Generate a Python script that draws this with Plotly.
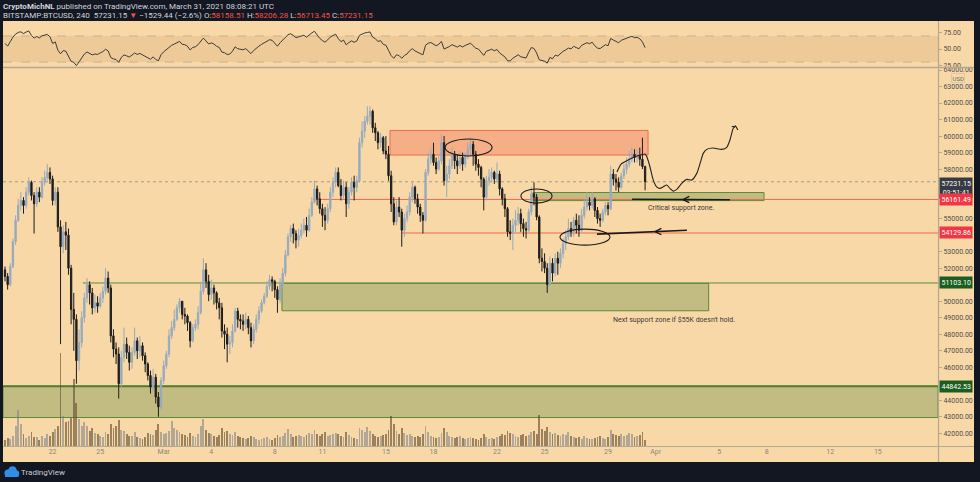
import plotly.graph_objects as go
import pandas as pd

# ---------------- data: BITSTAMP BTCUSD, 240 (4h) candles, prices in thousands USD ----------------
first_open = 51.9
close = [
    51.5, 51.0, 52.1, 53.6, 54.9, 55.8,
    56.1, 55.8, 56.6, 57.2, 56.4, 55.9,
    56.6, 56.3, 57.2, 57.5, 57.8, 57.4,
    56.1, 56.6, 54.5, 53.3, 54.2, 54.0,
    52.0, 49.5, 48.9, 46.4, 47.5, 49.0,
    50.2, 51.0, 50.5, 49.6, 49.9, 49.7,
    50.2, 50.6, 51.4, 50.8, 47.9, 47.1,
    46.8, 45.0, 46.6, 47.4, 46.9, 46.3,
    46.9, 47.6, 47.0, 47.3, 46.7, 46.2,
    45.5, 44.8, 45.4, 44.2, 43.6, 45.2,
    46.1, 46.8, 47.9, 48.4, 48.9, 49.6,
    50.0, 49.2, 49.1, 48.7, 47.6, 48.4,
    48.6, 49.3, 50.6, 51.9, 51.2, 50.4,
    50.8, 50.5, 49.9, 49.6, 48.2, 48.0,
    47.4, 47.5, 48.2, 49.4, 48.9, 48.8,
    48.6, 48.9, 48.4, 47.6, 48.3, 48.9,
    49.4, 49.9, 50.3, 50.9, 51.3, 51.2,
    50.7, 50.1, 51.0, 51.7, 52.8, 53.9,
    54.4, 54.1, 53.7, 54.0, 54.3, 54.6,
    54.3, 55.2, 56.0, 56.8, 56.2, 55.6,
    55.2, 54.9, 55.6, 56.6, 57.2, 57.8,
    57.0, 56.4, 56.9, 55.9, 56.6, 57.2,
    56.9, 57.3, 59.6, 60.3, 60.9, 61.2,
    61.5, 60.5, 60.2, 59.6, 59.9, 59.1,
    58.9, 57.6, 55.9, 54.8, 55.7, 55.4,
    54.3, 55.0, 55.4, 56.3, 56.9, 56.2,
    55.7, 55.2, 54.9, 57.8, 58.6, 58.9,
    58.4, 58.0, 58.5, 59.6, 57.3, 57.7,
    58.2, 58.9, 58.5, 58.2, 58.7, 58.3,
    58.8, 59.2, 59.5, 58.9, 58.3, 58.1,
    57.4, 56.3, 57.3, 57.5, 57.8, 57.4,
    57.7, 56.8, 56.2, 55.6, 54.2, 54.1,
    54.6, 54.9, 55.3, 54.7, 54.4, 54.3,
    55.4, 56.5, 56.3, 55.1, 52.6, 52.4,
    52.0, 51.0, 52.3, 51.7, 52.6, 52.3,
    52.9, 53.5, 53.9, 54.4, 54.2, 54.9,
    54.6, 54.3, 55.2, 55.7, 56.0, 55.8,
    56.2, 55.5, 55.0, 54.9, 55.4, 55.8,
    55.6, 57.7, 57.4, 57.2, 56.9, 57.6,
    58.0, 58.3, 58.6, 58.9, 58.7, 58.8,
    58.6, 58.15851, 57.23115,
]
high = [
    52.1, 51.7, 52.3, 53.8, 55.2, 56.2,
    56.6, 56.3, 56.9, 57.5, 57.3, 56.6,
    56.9, 56.9, 57.5, 57.9, 58.3, 58.1,
    57.6, 56.9, 56.9, 54.9, 54.6, 54.8,
    54.4, 52.2, 50.5, 49.2, 48.3, 49.4,
    50.5, 51.4, 51.2, 50.8, 50.4, 50.3,
    50.5, 50.9, 52.0, 51.8, 51.0, 48.3,
    47.5, 47.2, 47.0, 48.4, 47.8, 47.3,
    47.2, 48.4, 47.8, 47.9, 47.5, 46.9,
    46.3, 45.8, 45.9, 45.6, 44.5, 45.4,
    46.4, 47.0, 48.3, 48.8, 49.5, 49.8,
    50.2, 50.0, 49.6, 49.2, 48.8, 48.6,
    48.9, 49.7, 51.1, 52.6, 52.3, 51.6,
    51.3, 51.0, 50.6, 50.2, 49.9, 48.6,
    48.4, 47.9, 48.6, 49.6, 49.6, 49.2,
    49.2, 49.3, 49.1, 48.7, 48.6, 49.2,
    49.7, 50.1, 50.5, 51.2, 51.6, 51.5,
    51.3, 50.9, 51.4, 52.0, 53.1, 54.1,
    54.6, 54.7, 54.3, 54.4, 54.7, 55.0,
    55.1, 55.6, 56.3, 57.3, 57.0, 56.6,
    55.9, 55.7, 55.9, 56.9, 57.5, 58.1,
    58.1, 57.4, 57.3, 57.2, 56.9, 57.5,
    57.6, 57.6, 59.9, 60.9, 61.2, 61.8,
    61.8, 61.6, 60.8, 60.3, 60.2, 60.0,
    60.0, 59.4, 57.9, 56.3, 56.1, 56.3,
    55.6, 55.3, 55.8, 56.6, 57.2, 57.0,
    56.5, 55.9, 55.4, 58.0, 59.0, 59.3,
    59.6, 58.7, 58.8, 60.1, 60.0, 58.2,
    58.6, 59.3, 59.1, 58.9, 59.1, 59.0,
    59.0, 59.6, 59.9, 59.7, 59.1, 58.6,
    58.2, 57.5, 57.6, 58.0, 58.1, 57.9,
    58.4, 57.9, 56.9, 56.5, 55.7, 54.9,
    55.0, 55.5, 55.7, 55.6, 55.0, 54.8,
    55.6, 56.9, 57.2, 56.5, 55.2, 53.2,
    52.9, 52.3, 52.7, 52.6, 52.9, 53.0,
    53.2, 53.8, 54.3, 55.0, 54.8, 55.1,
    55.3, 55.2, 55.6, 56.2, 56.6, 56.3,
    56.6, 56.3, 55.7, 55.3, 55.6, 56.0,
    56.0, 58.2, 58.0, 57.7, 57.5, 57.8,
    58.3, 58.7, 59.1, 59.3, 59.2, 59.2,
    59.3, 59.9, 58.20628,
]
low = [
    51.2, 50.7, 50.9, 52.0, 53.4, 54.8,
    55.5, 55.3, 55.6, 56.4, 56.1, 54.1,
    55.7, 56.0, 56.2, 57.0, 57.3, 57.1,
    55.8, 55.8, 54.2, 47.4, 52.9, 53.1,
    51.6, 48.6, 47.0, 45.0, 45.8, 47.2,
    48.7, 49.9, 49.8, 49.2, 49.3, 49.3,
    49.6, 49.9, 50.4, 50.5, 47.5, 46.6,
    46.2, 44.1, 44.8, 46.3, 46.5, 45.8,
    45.9, 46.7, 46.5, 46.6, 46.4, 45.7,
    45.2, 44.4, 44.5, 43.8, 43.0, 43.4,
    45.0, 45.9, 46.6, 47.7, 48.2, 48.8,
    49.3, 48.9, 48.6, 48.2, 47.2, 47.5,
    48.2, 48.3, 49.2, 50.4, 50.8, 50.0,
    50.1, 49.8, 49.5, 48.9, 47.8, 47.1,
    46.3, 46.8, 47.2, 48.1, 48.4, 48.3,
    48.2, 48.3, 48.0, 47.2, 47.4, 48.1,
    48.6, 49.3, 49.8, 50.2, 50.7, 50.6,
    50.2, 49.3, 49.9, 50.8, 51.5, 52.7,
    53.6, 53.5, 53.2, 53.3, 53.8, 54.1,
    53.9, 54.2, 55.1, 55.9, 55.8, 55.3,
    54.5, 54.3, 54.7, 55.4, 56.3, 56.9,
    56.9, 56.1, 56.2, 55.1, 55.6, 56.4,
    56.1, 56.6, 57.2, 59.3, 59.9, 60.7,
    60.7, 60.2, 59.7, 59.2, 59.3, 58.9,
    58.6, 57.3, 55.4, 54.6, 54.6, 55.1,
    53.3, 53.9, 54.8, 55.2, 56.0, 55.9,
    55.3, 54.8, 54.1, 54.8, 57.6, 58.3,
    58.2, 57.7, 57.9, 58.3, 57.0, 56.3,
    57.4, 58.0, 58.0, 57.7, 58.0, 57.9,
    58.1, 58.6, 58.9, 58.2, 57.9, 57.6,
    56.9, 55.5, 56.1, 57.0, 57.2, 57.1,
    57.2, 56.4, 55.8, 55.1, 53.9, 53.7,
    53.1, 54.2, 54.6, 54.2, 53.9, 53.8,
    54.2, 55.2, 55.8, 54.9, 52.3, 51.8,
    51.7, 50.5, 50.9, 51.2, 51.5, 51.6,
    52.0, 52.6, 53.1, 53.7, 53.9, 53.9,
    54.1, 53.9, 54.2, 55.0, 55.5, 55.5,
    55.6, 55.1, 54.7, 54.5, 54.8, 55.2,
    55.2, 55.5, 57.0, 56.7, 56.6, 56.8,
    57.4, 57.7, 58.1, 58.4, 58.4, 58.4,
    58.2, 58.0, 56.71345,
]
volume = [
    6, 8, 7, 10, 20, 36,
    22, 12, 8, 10, 14, 9,
    9, 6, 10, 8, 12, 10,
    14, 17, 20, 93, 30, 24,
    25, 28, 67, 43, 27, 20,
    24, 20, 15, 18, 13, 12,
    10, 9, 14, 12, 22, 18,
    20, 26, 16, 15, 12, 10,
    10, 14, 9, 8, 7, 9,
    13, 12, 11, 16, 22, 14,
    12, 13, 15, 25, 18, 16,
    14, 12, 11, 9, 13, 10,
    9, 12, 20, 27, 16, 13,
    12, 10, 9, 11, 18, 14,
    15, 12, 11, 14, 10, 9,
    8, 7, 8, 10, 9, 7,
    6, 7, 8, 9, 7, 6,
    8, 11, 9, 10, 13, 17,
    12, 9, 10, 11, 10, 9,
    11, 13, 12, 16, 12, 10,
    12, 14, 10, 11, 12, 13,
    12, 10, 9, 14, 11, 9,
    8, 7, 18, 16, 14, 19,
    15, 12, 10, 9, 10, 11,
    12, 16, 30, 22, 15, 12,
    18, 13, 11, 12, 10, 9,
    10, 9, 12, 20, 14, 10,
    9, 8, 9, 13, 18, 14,
    10, 9, 8, 9, 10, 8,
    7, 8, 9, 8, 7, 6,
    8, 12, 9, 7, 8, 7,
    9, 10, 12, 11, 15, 13,
    12, 10, 9, 11, 12, 10,
    11, 14, 15, 12, 31, 17,
    15, 19, 14, 12, 13, 11,
    10, 12, 11, 14, 10, 9,
    8, 9, 7, 10, 8, 7,
    7, 8, 9, 10, 8, 7,
    9, 16, 12, 11, 10, 12,
    10, 11, 13, 12, 9, 10,
    11, 14, 6,
]
rsi_seed_gain = 0.30
rsi_seed_loss = 0.18

x_tick_dates = ["2021-02-22", "2021-02-25", "2021-03-01", "2021-03-04", "2021-03-08", "2021-03-11",
                "2021-03-15", "2021-03-18", "2021-03-22", "2021-03-25", "2021-03-29", "2021-04-01",
                "2021-04-05", "2021-04-08", "2021-04-12", "2021-04-15"]
x_tick_labels = ["22", "25", "Mar", "4", "8", "11", "15", "18", "22", "25", "29", "Apr", "5", "8", "12", "15"]

# price-scale ticks (those hidden behind the coloured level labels are left out)
price_ticks = [42000, 43000, 44000, 46000, 47000, 48000, 49000, 50000, 52000, 53000, 55000,
               58000, 59000, 60000, 61000, 62000, 63000, 64000]
rsi_ticks = [25, 50, 75]

level_prices = [57231.15, 56161.49, 54129.86, 51103.10, 44842.53]
level_texts = ["57231.15<br>03:51:41", "56161.49", "54129.86", "51103.10", "44842.53"]
level_colors = ["#363a45", "#f23645", "#f23645", "#1b5e20", "#1b5e20"]

# zones (day offsets from 19 Feb 00:00, prices)
red_zone = (24.26, 40.52, 58850, 60340)
crit_zone = (33.27, 47.83, 56090, 56580)
next_zone = (17.45, 44.34, 49420, 51080)
base_zone = (42955, 44842.53)

# hand drawn projection path (day offset, price)
proj_d = [38.56, 38.82, 39.26, 39.82, 40.33, 40.45, 40.64, 40.85, 41.06, 41.27, 41.48, 41.70, 41.90,
          42.11, 42.33, 42.64, 42.96, 43.27, 43.59, 43.80, 44.00, 44.22, 44.63, 45.16, 45.48, 45.68,
          45.89, 46.04]
proj_p = [57819, 58304, 58546, 58788, 58910, 58728, 58140, 57334, 56928, 56831, 56928, 57031, 56831,
          56667, 56770, 57134, 57376, 57334, 57740, 58346, 58952, 59194, 59273, 59194, 59316, 59758,
          60467, 60606]

# ---------------- derived ----------------
n = len(close)
assert len(high) == n and len(low) == n and len(volume) == n, (n, len(high), len(low), len(volume))
T0 = pd.Timestamp("2021-02-19 00:00")
times = [T0 + pd.Timedelta(hours=4 * i) for i in range(n)]
opens = [first_open] + close[:-1]
O = [v * 1000 for v in opens]
C = [v * 1000 for v in close]
Hh = [max(h * 1000, o, c) for h, o, c in zip(high, O, C)]
Ll = [min(l * 1000, o, c) for l, o, c in zip(low, O, C)]

ag, al = rsi_seed_gain, rsi_seed_loss
rsi = []
prev = first_open
for c in close:
    ch = c - prev
    ag = (ag * 13 + max(ch, 0)) / 14
    al = (al * 13 + max(-ch, 0)) / 14
    rsi.append(100 - 100 / (1 + ag / al))
    prev = c


def at(d):
    return T0 + pd.Timedelta(days=d)


X_START = pd.Timestamp("2021-02-18 20:59")
X_END = pd.Timestamp("2021-04-18 18:58")

# ---------------- layout geometry ----------------
W, H = 980, 482
L, R, T, B = 3, 42, 22, 36
PW, PH = W - L - R, H - T - B


def px(x):
    return (x - L) / PW


def py(y):
    return (H - B - y) / PH


PEACH = "#f8d8a6"
DARK = "#131722"
AX = "#b5a892"
FONT = "Roboto"

fig = go.Figure()

# volume
vol_colors = ["rgba(120,128,135,0.55)" if c >= o else "rgba(95,72,45,0.6)" for o, c in zip(O, C)]
fig.add_trace(go.Bar(x=times, y=volume, marker_color=vol_colors, marker_line_width=0,
                     width=4 * 3600 * 1000 * 0.7, yaxis="y3", hoverinfo="skip", showlegend=False))

# candles
fig.add_trace(go.Candlestick(
    x=times, open=O, high=Hh, low=Ll, close=C,
    increasing=dict(line=dict(color="#96aabe", width=1), fillcolor="#96aabe"),
    decreasing=dict(line=dict(color="#1d1d1d", width=1), fillcolor="#1d1d1d"),
    whiskerwidth=0, hoverinfo="skip", showlegend=False))

# RSI
fig.add_trace(go.Scatter(x=times, y=rsi, mode="lines", line=dict(color="#3c3c3c", width=1),
                         yaxis="y2", hoverinfo="skip", showlegend=False))

# hand drawn projection
fig.add_trace(go.Scatter(x=[at(d) for d in proj_d], y=proj_p, mode="lines",
                         line=dict(color="#222222", width=1.1, shape="spline", smoothing=0.6),
                         hoverinfo="skip", showlegend=False))
# arrow head at end of projection
fig.add_trace(go.Scatter(x=[at(45.79), at(46.04), at(46.18)], y=[60564, 60606, 60364], mode="lines",
                         line=dict(color="#222222", width=1.1), hoverinfo="skip", showlegend=False))


def arrow_line(d0, d1, p0, p1, dc):
    pc = p0 + (p1 - p0) * (dc - d0) / (d1 - d0)
    fig.add_trace(go.Scatter(x=[at(d0), at(d1)], y=[p0, p1], mode="lines",
                             line=dict(color="#1a1a1a", width=1.6), hoverinfo="skip", showlegend=False))
    fig.add_trace(go.Scatter(x=[at(dc + 0.4), at(dc), at(dc + 0.4)], y=[pc + 190, pc, pc - 190],
                             mode="lines", line=dict(color="#1a1a1a", width=1.3),
                             hoverinfo="skip", showlegend=False))


arrow_line(39.51, 45.68, 56170, 56140, 42.72)
arrow_line(37.30, 42.97, 54060, 54300, 40.96)

shapes = []
# RSI band
shapes.append(dict(type="rect", xref="paper", yref="y2", x0=0, x1=1, y0=30, y1=70,
                   fillcolor="rgba(160,110,60,0.13)", line=dict(width=0), layer="below"))
for lv in (30, 70):
    shapes.append(dict(type="line", xref="paper", yref="y2", x0=0, x1=1, y0=lv, y1=lv,
                       line=dict(color="#c9b291", width=1, dash="dash"), layer="below"))

# zones
shapes.append(dict(type="rect", xref="x", yref="y", x0=at(red_zone[0]), x1=at(red_zone[1]),
                   y0=red_zone[2], y1=red_zone[3], fillcolor="rgba(240,90,70,0.33)",
                   line=dict(color="#ef6a50", width=1), layer="below"))
for z in (crit_zone, next_zone):
    shapes.append(dict(type="rect", xref="x", yref="y", x0=at(z[0]), x1=at(z[1]), y0=z[2], y1=z[3],
                       fillcolor="rgba(122,150,80,0.42)", line=dict(color="#5b8c3a", width=1),
                       layer="below"))
shapes.append(dict(type="rect", xref="x", yref="y", x0=X_START, x1=X_END, y0=base_zone[0], y1=base_zone[1],
                   fillcolor="rgba(122,150,80,0.42)", line=dict(color="#5b8c3a", width=1), layer="below"))
shapes.append(dict(type="line", xref="x", yref="y", x0=X_START, x1=X_END, y0=base_zone[1], y1=base_zone[1],
                   line=dict(color="#4c7d2e", width=2), layer="below"))

# horizontal levels
shapes.append(dict(type="line", xref="x", yref="y", x0=at(19.41), x1=X_END, y0=56161.49, y1=56161.49,
                   line=dict(color="#ef6a50", width=1), layer="below"))
shapes.append(dict(type="line", xref="x", yref="y", x0=at(25.0), x1=X_END, y0=54129.86, y1=54129.86,
                   line=dict(color="#ef6a50", width=1), layer="below"))
shapes.append(dict(type="line", xref="x", yref="y", x0=at(4.91), x1=X_END, y0=51103.10, y1=51103.10,
                   line=dict(color="#5b8c3a", width=1), layer="below"))
shapes.append(dict(type="line", xref="x", yref="y", x0=X_START, x1=X_END, y0=57231.15, y1=57231.15,
                   line=dict(color="#a39a8c", width=1, dash="dot"), layer="below"))

# hand drawn ellipses
for d0, d1, p0, p1 in [(27.73, 30.69, 58790, 59820), (32.51, 34.47, 55940, 56790), (34.97, 38.12, 53395, 54365)]:
    shapes.append(dict(type="circle", xref="x", yref="y", x0=at(d0), x1=at(d1), y0=p0, y1=p1,
                       line=dict(color="#1a1a1a", width=1.1), layer="above"))

# frame lines
shapes.append(dict(type="line", xref="paper", yref="paper", x0=px(3), x1=px(974), y0=py(67.5), y1=py(67.5),
                   line=dict(color=AX, width=1.5), layer="above"))
shapes.append(dict(type="line", xref="paper", yref="paper", x0=px(3), x1=px(974), y0=py(446.5), y1=py(446.5),
                   line=dict(color=AX, width=1), layer="above"))
shapes.append(dict(type="line", xref="paper", yref="paper", x0=px(938.5), x1=px(938.5), y0=py(21), y1=py(462),
                   line=dict(color=AX, width=1.2), layer="above"))

# dark outer frame
for x0, y0, x1, y1 in [(0, 0, 980, 21), (0, 462, 980, 482), (0, 0, 3, 482), (974, 0, 980, 482)]:
    shapes.append(dict(type="rect", xref="paper", yref="paper", x0=px(x0), x1=px(x1), y0=py(y1), y1=py(y0),
                       fillcolor=DARK, line=dict(width=0), layer="above"))
# TradingView logo cloud
for cx, cy, r in [(8, 473, 3.6), (12.5, 470.5, 4.2), (16, 473.5, 3.2)]:
    shapes.append(dict(type="circle", xref="paper", yref="paper", x0=px(cx - r), x1=px(cx + r),
                       y0=py(cy + r), y1=py(cy - r), fillcolor="#2f8fe8", line=dict(width=0), layer="above"))
shapes.append(dict(type="rect", xref="paper", yref="paper", x0=px(5), x1=px(18.5), y0=py(477), y1=py(472),
                   fillcolor="#2f8fe8", line=dict(width=0), layer="above"))

annotations = []
RED = "#ef5350"
annotations.append(dict(xref="paper", yref="paper", x=px(1), y=py(6.5), xanchor="left", yanchor="middle",
                        showarrow=False, font=dict(size=8, color="#d1d4dc", family=FONT),
                        text="<b>CryptoMichNL</b> published on TradingView.com, March 31, 2021 08:08:21 UTC"))
annotations.append(dict(xref="paper", yref="paper", x=px(1), y=py(15.5), xanchor="left", yanchor="middle",
                        showarrow=False, font=dict(size=8, color="#d1d4dc", family=FONT),
                        text=("BITSTAMP:BTCUSD, 240  57231.15 <span style='color:%s'>▼</span> −1529.44 (−2.6%%) "
                              "O:<span style='color:%s'>58158.51</span> H:<span style='color:%s'>58206.28</span> "
                              "L:<span style='color:%s'>56713.45</span> C:<span style='color:%s'>57231.15</span>")
                        % (RED, RED, RED, RED, RED)))
annotations.append(dict(xref="paper", yref="paper", x=px(19), y=py(472.5), xanchor="left", yanchor="middle",
                        showarrow=False, font=dict(size=8, color="#c8cad0", family=FONT), text="TradingView"))

# price level labels on axis
for p, t, col in zip(level_prices, level_texts, level_colors):
    two = "<br>" in t
    annotations.append(dict(xref="paper", yref="y", x=px(939), y=p, xanchor="left",
                            yanchor="top" if two else "middle", yshift=5 if two else 0,
                            showarrow=False, bgcolor=col, borderpad=1.5,
                            font=dict(size=7, color="#ffffff", family=FONT), text=t))
annotations.append(dict(xref="paper", yref="paper", x=px(958), y=py(78), xanchor="center", yanchor="middle",
                        showarrow=False, bgcolor=PEACH, bordercolor="#dcc7a6", borderwidth=1, borderpad=0.5,
                        font=dict(size=6, color="#6b6b6b", family=FONT), text="USD"))

annotations.append(dict(xref="x", yref="y", x=at(40.39), y=55637, xanchor="left", yanchor="middle",
                        showarrow=False, font=dict(size=7, color="#3a3a3a", family=FONT),
                        text="Critical support zone."))
annotations.append(dict(xref="x", yref="y", x=at(38.19), y=48850, xanchor="left", yanchor="middle",
                        showarrow=False, font=dict(size=7, color="#3a3a3a", family=FONT),
                        text="Next support zone if $55K doesn't hold."))

P_PER_PX = 22000 / 363.3
p_top = 64000 + (70 - 68) * P_PER_PX
p_bot = 64000 - (446 - 70) * P_PER_PX
R_PER_PX = 50 / 32.6
r_top = 50 + (49 - 22) * R_PER_PX
r_bot = 50 - (67 - 49) * R_PER_PX

fig.update_layout(
    width=W, height=H, margin=dict(l=L, r=R, t=T, b=B, autoexpand=False),
    paper_bgcolor=PEACH, plot_bgcolor="rgba(0,0,0,0)",
    font=dict(family=FONT, size=7, color="#4a4a4a"),
    showlegend=False, bargap=0,
    xaxis=dict(domain=[0, 1], range=[X_START, X_END], anchor="y", showgrid=False, zeroline=False,
               showline=False, ticks="", tickvals=x_tick_dates, ticktext=x_tick_labels,
               tickfont=dict(size=7, color="#8d877c"), rangeslider=dict(visible=False), automargin=False,
               fixedrange=True),
    yaxis=dict(domain=[0, py(68)], range=[p_bot, p_top], side="right", anchor="x", showgrid=False,
               zeroline=False, showline=False, tickvals=price_ticks, tickformat=".2f",
               ticks="outside", ticklen=3, tickcolor=AX, tickfont=dict(size=7, color="#4f4f4f"),
               automargin=False, fixedrange=True),
    yaxis2=dict(domain=[py(67), 1], range=[r_bot, r_top], side="right", anchor="x", showgrid=False,
                zeroline=False, showline=False, tickvals=rsi_ticks, tickformat=".2f", ticks="outside",
                ticklen=3, tickcolor=AX, tickfont=dict(size=7, color="#4f4f4f"), automargin=False,
                fixedrange=True),
    yaxis3=dict(overlaying="y", range=[0, 378], visible=False, fixedrange=True),
    shapes=shapes, annotations=annotations,
)

fig.write_html("out.html")
